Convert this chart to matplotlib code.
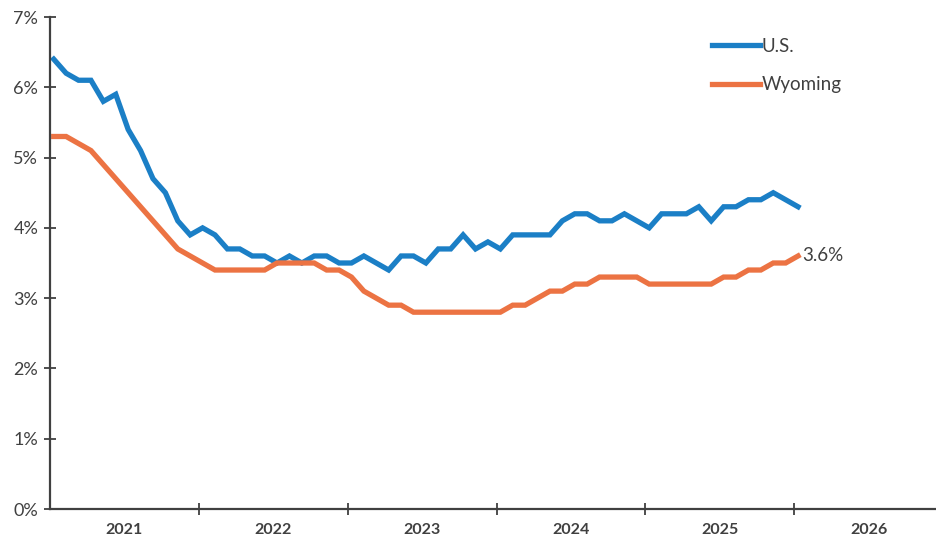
import numpy as np
import matplotlib.pyplot as plt

plt.rcParams['font.family'] = ['Lato', 'DejaVu Sans']

years = ['2021', '2022', '2023', '2024', '2025', '2026']

# monthly unemployment rate, Jan 2021 .. Jan 2026
us = [6.4, 6.2, 6.1, 6.1, 5.8, 5.9, 5.4, 5.1, 4.7, 4.5, 4.1, 3.9,
      4.0, 3.9, 3.7, 3.7, 3.6, 3.6, 3.5, 3.6, 3.5, 3.6, 3.6, 3.5,
      3.5, 3.6, 3.5, 3.4, 3.6, 3.6, 3.5, 3.7, 3.7, 3.9, 3.7, 3.8,
      3.7, 3.9, 3.9, 3.9, 3.9, 4.1, 4.2, 4.2, 4.1, 4.1, 4.2, 4.1,
      4.0, 4.2, 4.2, 4.2, 4.3, 4.1, 4.3, 4.3, 4.4, 4.4, 4.5, 4.4,
      4.3]
wyoming = [5.3, 5.3, 5.2, 5.1, 4.9, 4.7, 4.5, 4.3, 4.1, 3.9, 3.7, 3.6,
           3.5, 3.4, 3.4, 3.4, 3.4, 3.4, 3.5, 3.5, 3.5, 3.5, 3.4, 3.4,
           3.3, 3.1, 3.0, 2.9, 2.9, 2.8, 2.8, 2.8, 2.8, 2.8, 2.8, 2.8,
           2.8, 2.9, 2.9, 3.0, 3.1, 3.1, 3.2, 3.2, 3.3, 3.3, 3.3, 3.3,
           3.2, 3.2, 3.2, 3.2, 3.2, 3.2, 3.3, 3.3, 3.4, 3.4, 3.5, 3.5,
           3.6]

blue = '#1b7fc6'
orange = '#ec7343'
dark = '#404040'

months = np.arange(len(us))

fig = plt.figure(figsize=(9.37, 5.49), dpi=100)
ax = fig.add_axes([50 / 937, 1 - 509 / 549, 1 - 50 / 937, (509 - 17) / 549])

ax.plot(months, us, color=blue, lw=3.8, solid_joinstyle='miter', label='U.S.')
ax.plot(months, wyoming, color=orange, lw=3.8, solid_joinstyle='miter', label='Wyoming')

ax.annotate(f'{wyoming[-1]:.1f}%', (months[-1], wyoming[-1]), xytext=(3, 0),
            textcoords='offset points', va='center', ha='left',
            fontsize=13.5, color=dark)

# year boundaries as ticks, year names centred between them
off = -0.3
ax.set_xlim(off, 71.2)
ax.set_xticks([12 * k + off for k in range(1, 6)])
ax.set_xticklabels([])
ax.set_xticks([12 * k + 6 + off for k in range(6)], minor=True)
ax.set_xticklabels(years, minor=True, fontsize=11.5, fontweight='bold', color=dark)
ax.tick_params(axis='x', which='major', direction='inout', length=9, width=1.3, color=dark)
ax.tick_params(axis='x', which='minor', length=0, pad=10)

ax.set_ylim(0, 7)
ax.set_yticks(range(8))
ax.set_yticklabels([f'{v}%' for v in range(8)], fontsize=13, color=dark)
ax.tick_params(axis='y', direction='inout', length=9, width=1.3, color=dark, pad=4)

for s in ['top', 'right']:
    ax.spines[s].set_visible(False)
for s in ['left', 'bottom']:
    ax.spines[s].set_color(dark)
    ax.spines[s].set_linewidth(1.6)

ax.legend(loc='upper left', bbox_to_anchor=(0.727, 0.992), frameon=False,
          fontsize=13.5, handlelength=2.55, handletextpad=0.1, labelspacing=1.15,
          labelcolor=dark)

fig.savefig('out.png', dpi=100)
